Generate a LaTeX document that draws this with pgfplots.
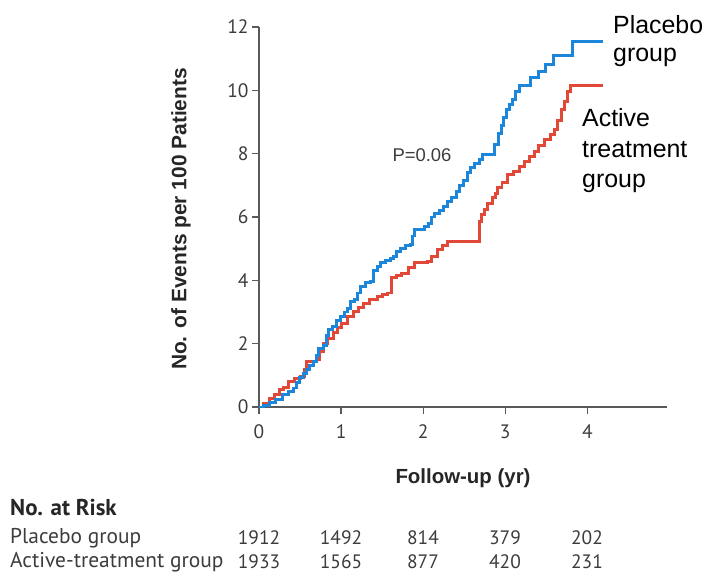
\documentclass[border=0pt]{standalone}
\usepackage{fontspec}
\setmainfont{Liberation Sans}
\newfontfamily\riskfont{PT Sans}
\usepackage{pgfplots}
\usepackage{pgfplotstable}
\pgfplotsset{compat=1.18}

\definecolor{placeboblue}{RGB}{28,134,218}
\definecolor{activered}{RGB}{226,72,56}
\definecolor{axisgray}{RGB}{90,90,90}
\definecolor{labelgray}{RGB}{60,60,60}

% Kaplan-Meier style cumulative event curves (events per 100 patients)
\pgfplotstableread{
t y
0.00 0.00
0.06 0.06
0.13 0.13
0.20 0.24
0.29 0.39
0.36 0.48
0.42 0.60
0.46 0.78
0.49 0.92
0.54 1.05
0.58 1.18
0.62 1.30
0.66 1.44
0.70 1.62
0.73 1.86
0.78 1.95
0.82 2.25
0.85 2.44
0.90 2.55
0.95 2.72
0.99 2.86
1.04 3.00
1.08 3.12
1.11 3.34
1.16 3.40
1.20 3.60
1.24 3.81
1.30 3.92
1.36 3.97
1.39 4.30
1.44 4.45
1.48 4.55
1.54 4.62
1.60 4.70
1.64 4.76
1.68 4.90
1.72 5.02
1.78 5.10
1.84 5.13
1.87 5.40
1.90 5.60
1.96 5.62
2.01 5.70
2.06 5.80
2.10 6.00
2.14 6.10
2.20 6.20
2.25 6.34
2.30 6.50
2.35 6.60
2.40 6.80
2.44 7.00
2.49 7.15
2.54 7.40
2.58 7.55
2.63 7.70
2.68 7.80
2.72 7.97
2.87 8.30
2.92 8.65
2.95 8.90
2.98 9.15
3.01 9.39
3.05 9.55
3.09 9.70
3.13 9.95
3.17 10.15
3.31 10.42
3.40 10.60
3.49 10.81
3.59 11.11
3.82 11.53
4.19 11.53
}\placebotab

\pgfplotstableread{
t y
0.00 0.00
0.05 0.12
0.13 0.28
0.19 0.40
0.25 0.55
0.30 0.62
0.36 0.81
0.43 0.90
0.50 0.97
0.55 1.20
0.58 1.44
0.70 1.50
0.74 1.75
0.78 2.02
0.84 2.15
0.91 2.34
0.96 2.50
1.01 2.65
1.08 2.85
1.15 3.02
1.21 3.15
1.27 3.28
1.35 3.38
1.44 3.49
1.50 3.55
1.56 3.60
1.61 4.10
1.68 4.15
1.74 4.23
1.82 4.40
1.89 4.55
2.05 4.60
2.10 4.76
2.17 4.97
2.24 5.10
2.30 5.23
2.68 5.85
2.71 6.07
2.75 6.25
2.78 6.44
2.84 6.60
2.88 6.75
2.91 6.92
2.96 7.10
3.03 7.34
3.10 7.45
3.17 7.60
3.23 7.75
3.29 7.90
3.35 8.07
3.41 8.25
3.48 8.44
3.55 8.60
3.60 8.76
3.64 9.05
3.68 9.39
3.72 9.65
3.76 9.97
3.80 10.15
4.19 10.15
}\activetab

\begin{document}
\begin{tikzpicture}[x=1bp,y=1bp]
\path[use as bounding box] (-259,-166) rectangle (448,407);
\begin{axis}[
  at={(0,0)}, anchor=south west,
  scale only axis, width=408bp, height=380bp,
  xmin=0, xmax=4.97, ymin=0, ymax=12,
  axis lines=left,
  axis line style={-, axisgray, line width=1.2pt},
  every tick/.style={axisgray, line width=1.2pt},
  tick align=outside, major tick length=7bp,
  xtick={0,1,2,3,4}, ytick={0,2,4,6,8,10,12},
  tick label style={font=\riskfont\fontsize{19.5}{21}\selectfont, text=labelgray},
  /pgf/number format/assume math mode=true,
  xticklabel style={yshift=-7bp},
  clip=false,
]
\addplot[const plot, activered, line width=3pt] table[x=t,y=y] {\activetab};
\addplot[const plot, placeboblue, line width=3pt] table[x=t,y=y] {\placebotab};
\end{axis}

% axis titles
\node[rotate=90, font=\bfseries\fontsize{21}{23}\selectfont, text=black!85] at (-78,188) {No. of Events per 100 Patients};
\node[font=\bfseries\fontsize{20.5}{22}\selectfont, text=black!85] at (204,-71) {Follow-up (yr)};

% curve labels
\begin{scope}[every node/.style={anchor=west, font=\fontsize{25}{27}\selectfont, inner sep=0pt}]
\node at (354,382) {Placebo};
\node at (354,350) {group};
\node at (323,289) {Active};
\node at (323,257) {treatment};
\node at (323,224) {group};
\end{scope}
\node[font=\fontsize{18.5}{20}\selectfont, text=labelgray] at (163,252) {P=0.06};

% numbers at risk
\begin{scope}[every node/.style={font=\riskfont\fontsize{19.5}{21}\selectfont, text=labelgray, inner sep=0pt}]
\node[anchor=west, font=\riskfont\bfseries\fontsize{23}{25}\selectfont, text=black!85] at (-249,-101) {No. at Risk};
\node[anchor=west, font=\riskfont\fontsize{21.5}{23}\selectfont] at (-249,-131) {Placebo group};
\node[anchor=west, font=\riskfont\fontsize{21.5}{23}\selectfont] at (-249,-155) {Active-treatment group};
\foreach \x/\n in {0/1912,82/1492,164/814,246/379,328/202} \node at (\x,-131) {\n};
\foreach \x/\n in {0/1933,82/1565,164/877,246/420,328/231} \node at (\x,-155) {\n};
\end{scope}
\end{tikzpicture}
\end{document}
